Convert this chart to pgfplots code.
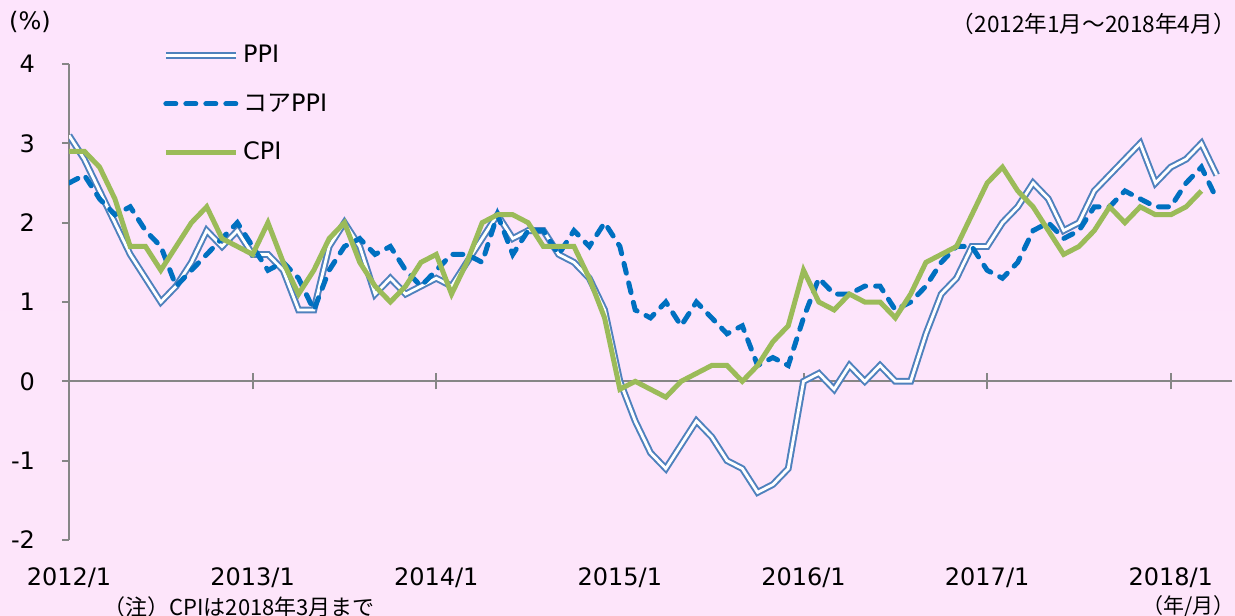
\documentclass[border=0pt]{standalone}
\usepackage{fontspec}
\setmainfont{DejaVu Sans}
\newfontfamily\cjk{Noto Sans CJK JP}
\usepackage{pgfplots}
\usepackage{pgfplotstable}
\pgfplotsset{compat=1.18}

\definecolor{ppiblue}{RGB}{79,129,189}
\definecolor{coreblue}{RGB}{0,112,192}
\definecolor{cpigreen}{RGB}{155,187,89}
\definecolor{axgray}{RGB}{134,134,134}
\definecolor{bgtop}{RGB}{253,228,252}
\definecolor{bgmid}{RGB}{255,251,255}
\definecolor{bgbot}{RGB}{253,229,250}

\pgfplotstableread{
i ppi core cpi
0 3.1 2.5 2.9
1 2.8 2.6 2.9
2 2.4 2.3 2.7
3 2.0 2.1 2.3
4 1.6 2.2 1.7
5 1.3 1.9 1.7
6 1.0 1.7 1.4
7 1.2 1.2 1.7
8 1.5 1.4 2.0
9 1.9 1.6 2.2
10 1.7 1.8 1.8
11 1.9 2.0 1.7
12 1.6 1.7 1.6
13 1.6 1.4 2.0
14 1.4 1.5 1.5
15 0.9 1.3 1.1
16 0.9 0.9 1.4
17 1.7 1.4 1.8
18 2.0 1.7 2.0
19 1.7 1.8 1.5
20 1.1 1.6 1.2
21 1.3 1.7 1.0
22 1.1 1.4 1.2
23 1.2 1.2 1.5
24 1.3 1.4 1.6
25 1.2 1.6 1.1
26 1.5 1.6 1.5
27 1.8 1.5 2.0
28 2.1 2.1 2.1
29 1.8 1.6 2.1
30 1.9 1.9 2.0
31 1.9 1.9 1.7
32 1.6 1.6 1.7
33 1.5 1.9 1.7
34 1.3 1.7 1.3
35 0.9 2.0 0.8
36 0.0 1.7 -0.1
37 -0.5 0.9 0.0
38 -0.9 0.8 -0.1
39 -1.1 1.0 -0.2
40 -0.8 0.7 0.0
41 -0.5 1.0 0.1
42 -0.7 0.8 0.2
43 -1.0 0.6 0.2
44 -1.1 0.7 0.0
45 -1.4 0.2 0.2
46 -1.3 0.3 0.5
47 -1.1 0.2 0.7
48 0.0 0.8 1.4
49 0.1 1.3 1.0
50 -0.1 1.1 0.9
51 0.2 1.1 1.1
52 0.0 1.2 1.0
53 0.2 1.2 1.0
54 0.0 0.9 0.8
55 0.0 1.0 1.1
56 0.6 1.2 1.5
57 1.1 1.5 1.6
58 1.3 1.7 1.7
59 1.7 1.7 2.1
60 1.7 1.4 2.5
61 2.0 1.3 2.7
62 2.2 1.5 2.4
63 2.5 1.9 2.2
64 2.3 2.0 1.9
65 1.9 1.8 1.6
66 2.0 1.9 1.7
67 2.4 2.2 1.9
68 2.6 2.2 2.2
69 2.8 2.4 2.0
70 3.0 2.3 2.2
71 2.5 2.2 2.1
72 2.7 2.2 2.1
73 2.8 2.5 2.2
74 3.0 2.7 2.4
75 2.6 2.3 nan
}\datatable

\begin{document}
\begin{tikzpicture}[x=1pt,y=1pt]
\shade[top color=bgtop, middle color=bgmid, bottom color=bgbot] (0,0) rectangle (617.5,307.5);
\path[use as bounding box] (0,0) rectangle (617.5,307.5);
\begin{axis}[
  at={(34.5pt,37.5pt)}, anchor=south west,
  scale only axis, width=581.5pt, height=238pt,
  xmin=0, xmax=76, ymin=-2, ymax=4,
  axis x line*=middle, axis y line*=left,
  hide obscured x ticks=false, hide obscured y ticks=false,
  axis line style={axgray, line width=1pt},
  xtick={0,12,24,36,48,60,72},
  xticklabels={2012/1,2013/1,2014/1,2015/1,2016/1,2017/1,2018/1},
  ytick={-2,-1,0,1,2,3,4},
  yticklabels={-2,-1,0,1,2,3,4},
  xtick align=center, ytick align=outside,
  major tick length=3.5pt,
  xtick style={axgray, line width=1pt, /pgfplots/major tick length=8pt},
  ytick style={axgray, line width=1pt},
  tick label style={font=\fontsize{12}{14}\selectfont, text=black},
  xticklabel style={anchor=center, yshift=-96.5pt},
  yticklabel style={anchor=east, xshift=-10pt},
  legend style={at={(axis description cs:0.08,1.049)}, anchor=north west,
    draw=none, fill=none, font=\fontsize{12}{14}\selectfont, row sep=10pt,
    inner sep=0pt, cells={anchor=west},
    /tikz/every even column/.append style={column sep=0pt}},
  legend image code/.code={\draw[#1] (0pt,0pt) -- (35pt,0pt);},
]
\addplot[ppiblue, line width=1pt, double=white, double distance=1.4pt] table[x=i,y=ppi] {\datatable};
\addlegendentry{PPI}
\addplot[coreblue, line width=2.5pt, line cap=round, dash pattern=on 5pt off 5pt] table[x=i,y=core] {\datatable};
\addlegendentry{{\cjk コア}PPI}
\addplot[cpigreen, line width=2.5pt] table[x=i,y=cpi] {\datatable};
\addlegendentry{CPI}
\end{axis}
\node[font=\fontsize{12}{14}\selectfont, inner sep=0pt] at (15,296.5) {(\%)};
\node[font=\cjk\fontsize{11.3}{13}\selectfont, inner sep=0pt, anchor=east] at (618,295.5) {（2012年1月～2018年4月）};
\node[font=\cjk\fontsize{11}{13}\selectfont, inner sep=0pt, anchor=west] at (51.5,4) {（注）CPIは2018年3月まで};
\node[font=\cjk\fontsize{10.5}{12}\selectfont, inner sep=0pt, anchor=east] at (617.5,4.5) {（年/月）};
\end{tikzpicture}
\end{document}
